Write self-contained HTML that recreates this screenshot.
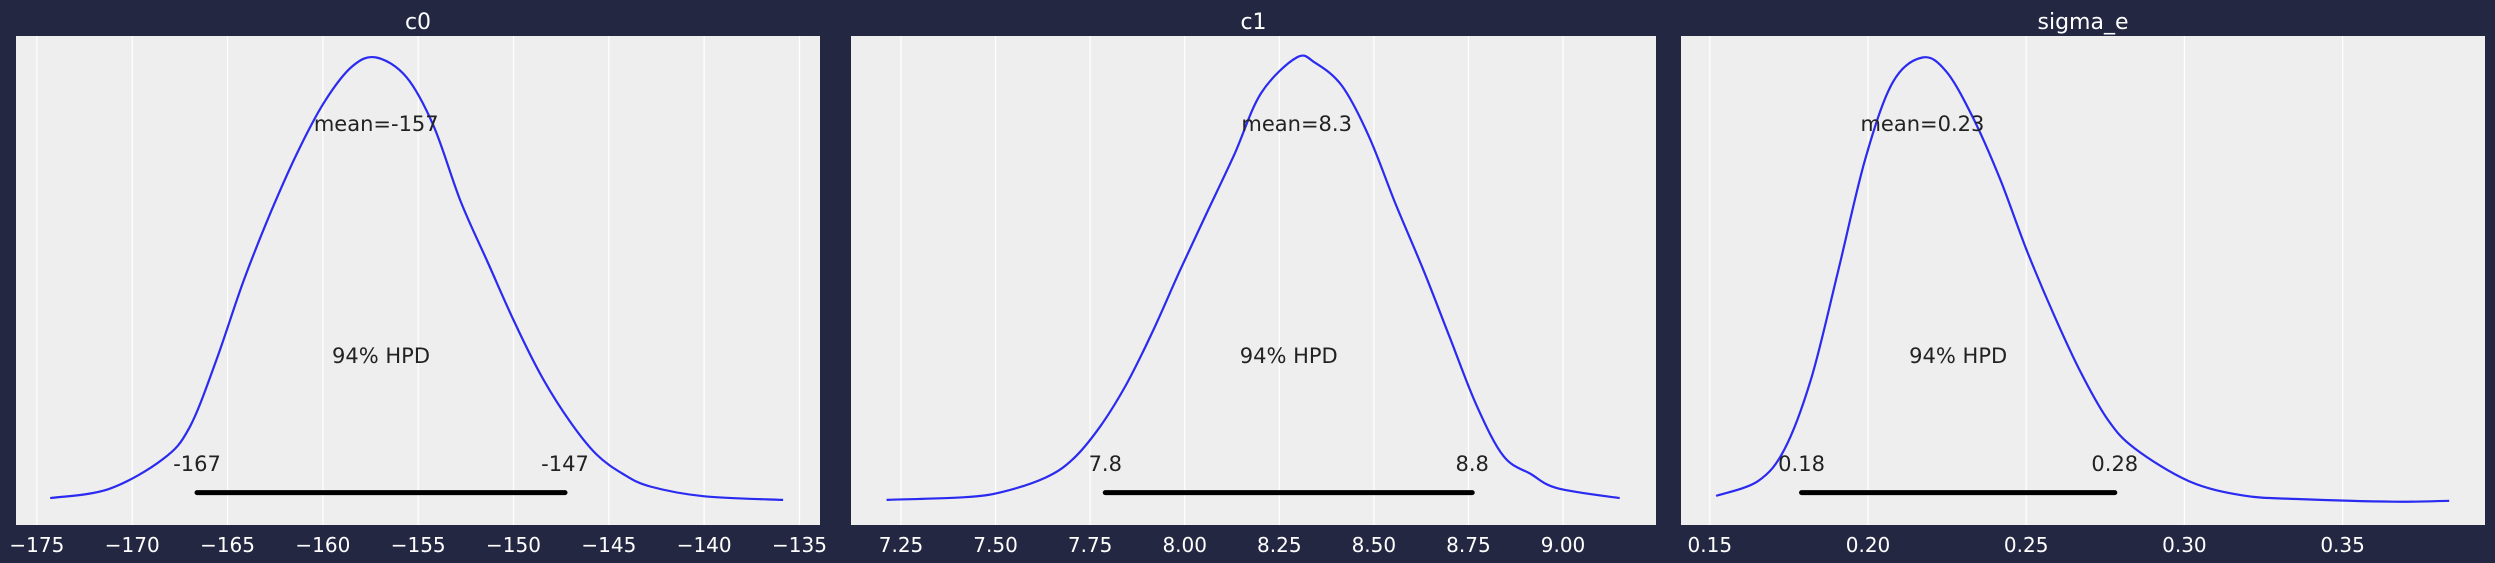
<!DOCTYPE html>
<html><head><meta charset="utf-8"><style>
html,body{margin:0;padding:0;background:#232742;}
svg{display:block;font-family:"DejaVu Sans","Liberation Sans",sans-serif;}
</style></head><body>
<svg id="chart" width="2495" height="563" viewBox="0 0 2495 563" xmlns="http://www.w3.org/2000/svg">
<rect x="0" y="0" width="2495" height="563" fill="#232742"/>
</svg>
<script>
// ---- data ----
const titles = ["c0", "c1", "sigma_e"];
const c0X = [-174.3,-171.25,-168.4,-166.99,-165.57,-164.15,-162.72,-161.3,-159.88,-158.46,-157.2,-155.62,-154.2,-152.78,-151.36,-149.93,-148.51,-147.09,-145.67,-144.25,-142.83,-139.99,-135.86];
const c0Y = [0.011,0.031,0.098,0.17,0.323,0.50,0.654,0.79,0.903,0.98,1.0,0.956,0.847,0.678,0.541,0.404,0.283,0.186,0.11,0.065,0.037,0.015,0.007];
const c1X = [7.212,7.419,7.518,7.632,7.704,7.775,7.846,7.917,7.989,8.060,8.131,8.202,8.296,8.345,8.416,8.487,8.558,8.630,8.701,8.772,8.843,8.915,8.986,9.15];
const c1Y = [0.007,0.013,0.025,0.057,0.098,0.17,0.267,0.388,0.525,0.654,0.782,0.92,1.0,0.988,0.936,0.823,0.67,0.525,0.371,0.218,0.105,0.065,0.033,0.011];
const sgX = [0.152,0.1652,0.1737,0.1822,0.1907,0.1992,0.2078,0.2172,0.2248,0.2333,0.2418,0.2503,0.2589,0.2674,0.2759,0.2844,0.3015,0.3185,0.3355,0.3662,0.3837];
const sgY = [0.016,0.049,0.122,0.283,0.525,0.774,0.944,1.0,0.968,0.863,0.726,0.565,0.42,0.291,0.186,0.122,0.049,0.017,0.009,0.003,0.005];
const c0Ticks = [-175,-170,-165,-160,-155,-150,-145,-140,-135];
const c1Ticks = [7.25,7.50,7.75,8.00,8.25,8.50,8.75,9.00];
const sgTicks = [0.15,0.20,0.25,0.30,0.35];
const c0TickLabels = ["\u2212175","\u2212170","\u2212165","\u2212160","\u2212155","\u2212150","\u2212145","\u2212140","\u2212135"];
const c1TickLabels = ["7.25","7.50","7.75","8.00","8.25","8.50","8.75","9.00"];
const sgTickLabels = ["0.15","0.20","0.25","0.30","0.35"];
const hpdLow = [-166.6, 7.79, 0.179];
const hpdHigh = [-147.3, 8.76, 0.278];
const hpdLowLabels = ["-167","7.8","0.18"];
const hpdHighLabels = ["-147","8.8","0.28"];
const meanLabels = ["mean=-157","mean=8.3","mean=0.23"];
const meanVals = [-157.2, 8.296, 0.2172];

// ---- layout ----
const svg = document.getElementById('chart');
const NS = 'http://www.w3.org/2000/svg';
function mk(tag, attrs, parent){const e=document.createElementNS(NS,tag);for(const k in attrs)e.setAttribute(k,attrs[k]);(parent||svg).appendChild(e);return e;}
const panels = [
 {l:16,r:820,x0:-175,x1:-135,p0:36.9,p1:799.5,xs:c0X,ys:c0Y,ticks:c0Ticks,tl:c0TickLabels},
 {l:851,r:1656,x0:7.25,x1:9.0,p0:901,p1:1563,xs:c1X,ys:c1Y,ticks:c1Ticks,tl:c1TickLabels},
 {l:1681,r:2485,x0:0.15,x1:0.35,p0:1709.8,p1:2342.6,xs:sgX,ys:sgY,ticks:sgTicks,tl:sgTickLabels}
];
const plotTop=36, plotBot=525;
function yS(v){return 503 - v*(503-57.5);}
function smoothPath(pts){
  let d='M'+pts[0][0].toFixed(1)+','+pts[0][1].toFixed(1);
  for(let k=0;k<pts.length-1;k++){
    const p0=pts[Math.max(0,k-1)], p1=pts[k], p2=pts[k+1], p3=pts[Math.min(pts.length-1,k+2)];
    const c1x=p1[0]+(p2[0]-p0[0])/6, c1y=p1[1]+(p2[1]-p0[1])/6;
    const c2x=p2[0]-(p3[0]-p1[0])/6, c2y=p2[1]-(p3[1]-p1[1])/6;
    d+='C'+c1x.toFixed(1)+','+c1y.toFixed(1)+' '+c2x.toFixed(1)+','+c2y.toFixed(1)+' '+p2[0].toFixed(1)+','+p2[1].toFixed(1);
  }
  return d;
}
panels.forEach((p,i)=>{
  const xS = v => p.p0 + (v-p.x0)*(p.p1-p.p0)/(p.x1-p.x0);
  const g = mk('g',{});
  
  
  const bg = mk('rect',{x:p.l,y:plotTop,width:p.r-p.l,height:plotBot-plotTop,fill:'#eeeeee'},g);
  
  
  p.ticks.forEach((t,j)=>{
    const x = xS(t);
    const gl = mk('line',{x1:x,x2:x,y1:plotTop,y2:plotBot,stroke:'#ffffff','stroke-width':1.2},g);
    
    
    const tx = mk('text',{x:x,y:552,'text-anchor':'middle',fill:'#ffffff','font-size':20},g);
    
    
    tx.textContent = p.tl[j];
  });
  const ti = mk('text',{x:(p.l+p.r)/2,y:29,'text-anchor':'middle',fill:'#ffffff','font-size':22},g);
  
  
  ti.textContent = titles[i];
  const pts = p.xs.map((v,k)=>[xS(v), yS(p.ys[k])]);
  const path = mk('path',{d:smoothPath(pts),fill:'none',stroke:'#2a2af0','stroke-width':2.2,'stroke-linejoin':'round'},g);
  
  
  const hb = mk('line',{x1:xS(hpdLow[i]),x2:xS(hpdHigh[i]),y1:492.6,y2:492.6,stroke:'#000',
    'stroke-width':5,'stroke-linecap':'round'},g);
  
  
  const lo = mk('text',{x:xS(hpdLow[i]),y:471,'text-anchor':'middle',fill:'#222','font-size':21},g);
  
  
  lo.textContent = hpdLowLabels[i];
  const hi = mk('text',{x:xS(hpdHigh[i]),y:471,'text-anchor':'middle',fill:'#222','font-size':21},g);
  
  
  hi.textContent = hpdHighLabels[i];
  const mid = (xS(hpdLow[i])+xS(hpdHigh[i]))/2;
  const hl = mk('text',{x:mid,y:363,'text-anchor':'middle',fill:'#222','font-size':21},g);
  
  
  hl.textContent = '94% HPD';
  const ml = mk('text',{x:xS(meanVals[i]),y:131,'text-anchor':'middle',fill:'#222','font-size':21},g);
  
  
  ml.textContent = meanLabels[i];
});
</script>
</body></html>
